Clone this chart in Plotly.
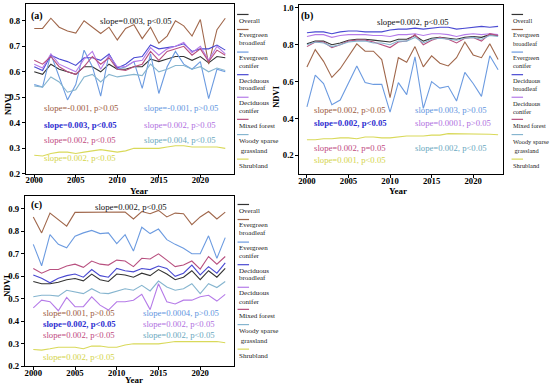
import plotly.graph_objects as go

W, H = 550, 389
FONT = "Liberation Serif, Times New Roman, serif"

years = list(range(2000, 2024))

series_names = ["Overall", "Evergreen broadleaf", "Evergreen conifer", "Deciduous broadleaf",
                "Deciduous conifer", "Mixed forest", "Woody sparse grassland", "Shrubland"]
legend_lines = [["Overall"], ["Evergreen", "broadleaf"], ["Evergreen", "conifer"],
                ["Deciduous", "broadleaf"], ["Deciduous", "conifer"], ["Mixed forest"],
                ["Woody sparse", " grassland"], ["Shrubland"]]
line_colors = ["#333333", "#A0674B", "#6C9BE0", "#4A4AD2", "#B57BE8", "#B8507F", "#86B5CF", "#D9D95A"]
text_colors = ["#111111", "#9C5A3C", "#5F95E0", "#2E2ED0", "#B070E0", "#C04A80", "#6AA8C0", "#D4D44A"]

# ---------------- panel (a) ----------------
a_overall = [0.60, 0.59, 0.63, 0.61, 0.60, 0.59, 0.62, 0.62, 0.60, 0.63, 0.61, 0.61,
             0.62, 0.62, 0.65, 0.64, 0.65, 0.66, 0.66, 0.645, 0.66, 0.635, 0.66, 0.655]
a_eb = [0.77, 0.77, 0.81, 0.775, 0.76, 0.752, 0.80, 0.775, 0.75, 0.775, 0.725, 0.77,
        0.785, 0.73, 0.775, 0.712, 0.74, 0.80, 0.78, 0.74, 0.805, 0.63, 0.765, 0.81]
a_ec = [0.55, 0.54, 0.67, 0.58, 0.49, 0.55, 0.685, 0.62, 0.505, 0.67, 0.61, 0.62,
        0.64, 0.535, 0.67, 0.515, 0.62, 0.68, 0.63, 0.61, 0.64, 0.495, 0.61, 0.60]
a_db = [0.62, 0.605, 0.665, 0.65, 0.64, 0.625, 0.655, 0.655, 0.645, 0.67, 0.615, 0.63,
        0.655, 0.66, 0.705, 0.69, 0.695, 0.70, 0.71, 0.68, 0.69, 0.69, 0.705, 0.685]
a_dc = [0.63, 0.615, 0.67, 0.63, 0.615, 0.60, 0.65, 0.68, 0.61, 0.665, 0.62, 0.62,
        0.64, 0.645, 0.695, 0.665, 0.69, 0.70, 0.715, 0.675, 0.70, 0.645, 0.70, 0.67]
a_mf = [0.645, 0.63, 0.66, 0.62, 0.60, 0.59, 0.62, 0.66, 0.63, 0.655, 0.61, 0.605,
        0.62, 0.63, 0.68, 0.645, 0.68, 0.69, 0.70, 0.665, 0.69, 0.64, 0.685, 0.665]
a_wsg = [0.545, 0.54, 0.58, 0.56, 0.52, 0.53, 0.58, 0.59, 0.56, 0.59, 0.58, 0.585,
         0.59, 0.585, 0.63, 0.60, 0.61, 0.625, 0.625, 0.61, 0.62, 0.60, 0.615, 0.605]
a_shrub = [0.273, 0.27, 0.28, 0.285, 0.285, 0.28, 0.285, 0.29, 0.295, 0.29, 0.285, 0.29,
           0.30, 0.30, 0.30, 0.30, 0.305, 0.31, 0.31, 0.305, 0.305, 0.305, 0.305, 0.30]
a_slopes = ["slope=0.003, p<0.05", "slope=-0.001, p>0.05", "slope=-0.001, p>0.05",
            "slope=0.003, p<0.05", "slope=0.002, p>0.05", "slope=0.002, p<0.05",
            "slope=0.004, p<0.05", "slope=0.002, p<0.05"]

# ---------------- panel (b) ----------------
b_overall = [0.805, 0.82, 0.82, 0.80, 0.81, 0.825, 0.83, 0.83, 0.825, 0.82, 0.815, 0.83,
             0.83, 0.85, 0.82, 0.835, 0.84, 0.835, 0.83, 0.84, 0.845, 0.84, 0.855, 0.85]
b_eb = [0.68, 0.774, 0.71, 0.623, 0.67, 0.74, 0.805, 0.765, 0.765, 0.72, 0.513, 0.73,
        0.705, 0.79, 0.68, 0.74, 0.70, 0.685, 0.73, 0.815, 0.745, 0.73, 0.805, 0.72]
b_ec = [0.463, 0.635, 0.59, 0.475, 0.50, 0.59, 0.685, 0.595, 0.585, 0.585, 0.435, 0.595,
        0.53, 0.735, 0.455, 0.60, 0.565, 0.575, 0.495, 0.65, 0.59, 0.52, 0.74, 0.665]
b_db = [0.865, 0.87, 0.87, 0.86, 0.87, 0.875, 0.875, 0.87, 0.87, 0.87, 0.88, 0.885,
        0.885, 0.89, 0.885, 0.89, 0.895, 0.895, 0.885, 0.89, 0.895, 0.90, 0.895, 0.90]
b_dc = [0.845, 0.855, 0.855, 0.84, 0.85, 0.855, 0.855, 0.855, 0.85, 0.85, 0.845, 0.855,
        0.855, 0.86, 0.85, 0.86, 0.86, 0.855, 0.845, 0.855, 0.86, 0.855, 0.86, 0.855]
b_mf = [0.79, 0.815, 0.815, 0.785, 0.80, 0.82, 0.825, 0.825, 0.815, 0.80, 0.785, 0.815,
        0.82, 0.855, 0.80, 0.825, 0.84, 0.83, 0.81, 0.835, 0.84, 0.82, 0.86, 0.85]
b_wsg = [0.80, 0.815, 0.81, 0.79, 0.80, 0.815, 0.82, 0.82, 0.81, 0.81, 0.80, 0.82,
         0.82, 0.84, 0.81, 0.83, 0.835, 0.83, 0.825, 0.835, 0.84, 0.83, 0.85, 0.845]
b_shrub = [0.285, 0.285, 0.29, 0.29, 0.295, 0.295, 0.29, 0.30, 0.30, 0.295, 0.295, 0.30,
           0.305, 0.305, 0.305, 0.31, 0.31, 0.318, 0.318, 0.315, 0.315, 0.315, 0.315, 0.312]
b_slopes = ["slope=0.002, p<0.05", "slope=0.002, p>0.05", "slope=0.003, p>0.05",
            "slope=0.002, p<0.05", "slope=0.0001, p>0.05", "slope=0.002, p=0.05",
            "slope=0.002, p<0.05", "slope=0.001, p<0.05"]

# ---------------- panel (c) ----------------
c_overall = [0.577, 0.567, 0.567, 0.574, 0.585, 0.59, 0.58, 0.61, 0.585, 0.577, 0.61, 0.606,
             0.596, 0.614, 0.603, 0.63, 0.61, 0.585, 0.596, 0.625, 0.585, 0.625, 0.596, 0.635]
c_eb = [0.864, 0.793, 0.881, 0.852, 0.823, 0.884, 0.884, 0.886, 0.886, 0.886, 0.886, 0.886,
        0.855, 0.888, 0.878, 0.893, 0.864, 0.881, 0.878, 0.83, 0.864, 0.888, 0.855, 0.885]
c_ec = [0.742, 0.647, 0.785, 0.742, 0.727, 0.778, 0.793, 0.804, 0.79, 0.793, 0.745, 0.785,
        0.712, 0.818, 0.79, 0.81, 0.763, 0.742, 0.725, 0.70, 0.70, 0.78, 0.68, 0.772]
c_db = [0.606, 0.591, 0.571, 0.591, 0.603, 0.61, 0.596, 0.63, 0.603, 0.596, 0.635, 0.625,
        0.62, 0.635, 0.63, 0.646, 0.635, 0.60, 0.614, 0.65, 0.606, 0.643, 0.614, 0.66]
c_dc = [0.46, 0.494, 0.487, 0.447, 0.506, 0.465, 0.465, 0.509, 0.472, 0.45, 0.487, 0.487,
        0.494, 0.52, 0.452, 0.567, 0.487, 0.477, 0.494, 0.494, 0.509, 0.516, 0.49, 0.52]
c_mf = [0.635, 0.614, 0.63, 0.63, 0.646, 0.654, 0.64, 0.668, 0.654, 0.65, 0.672, 0.668,
        0.643, 0.68, 0.677, 0.70, 0.672, 0.643, 0.65, 0.668, 0.632, 0.688, 0.654, 0.688]
c_wsg = [0.509, 0.516, 0.516, 0.512, 0.538, 0.53, 0.523, 0.545, 0.526, 0.523, 0.535, 0.545,
         0.538, 0.56, 0.535, 0.579, 0.553, 0.538, 0.545, 0.567, 0.523, 0.567, 0.55, 0.577]
c_shrub = [0.275, 0.272, 0.278, 0.285, 0.285, 0.285, 0.278, 0.29, 0.29, 0.285, 0.285, 0.295,
           0.30, 0.30, 0.30, 0.30, 0.305, 0.31, 0.31, 0.31, 0.308, 0.31, 0.31, 0.305]
c_slopes = ["slope=0.002, p<0.05", "slope=0.001, p>0.05", "slope=0.0004, p>0.05",
            "slope=0.002, p<0.05", "slope=0.002, p<0.05", "slope=0.002, p<0.05",
            "slope=0.002, p<0.05", "slope=0.002, p<0.05"]

panels = [
    dict(tag="(a)", data=[a_overall, a_eb, a_ec, a_db, a_dc, a_mf, a_wsg, a_shrub], slopes=a_slopes,
         xpx=(25, 233), ypx=(2, 175), xr=[1999, 2024], yr=[0.2, 0.866],
         yt=[0.2, 0.3, 0.4, 0.5, 0.6, 0.7, 0.8], ytext=["0.2", "0.3", "0.4", "0.5", "0.6", "0.7", "0.8"],
         tagpos=(36, 14), ovpos=(135, 19), left=(41, 141), rows=(108, 125, 141, 159),
         ndvi=(7, 104), year=(138, 192), legx=236.5, legtop=2, legfont=7, xstand=-5),
    dict(tag="(b)", data=[b_overall, b_eb, b_ec, b_db, b_dc, b_mf, b_wsg, b_shrub], slopes=b_slopes,
         xpx=(299, 503), ypx=(3, 175), xr=[1999.1, 2023.6], yr=[0.1, 1.016],
         yt=[0.2, 0.4, 0.6, 0.8, 1.0], ytext=["0.2", "0.4", "0.6", "0.8", "1.0"],
         tagpos=(307, 14), ovpos=(413, 20), left=(312, 413), rows=(110, 123, 149, 161),
         ndvi=(276, 96), year=(398, 192), legx=511.5, legtop=2, legfont=6.4, xstand=-4),
    dict(tag="(c)", data=[c_overall, c_eb, c_ec, c_db, c_dc, c_mf, c_wsg, c_shrub], slopes=c_slopes,
         xpx=(24, 233), ypx=(198, 371), xr=[1999, 2024], yr=[0.2, 0.955],
         yt=[0.2, 0.3, 0.4, 0.5, 0.6, 0.7, 0.8, 0.9],
         ytext=["0.2", "0.3", "0.4", "0.5", "0.6", "0.7", "0.8", "0.9"],
         tagpos=(36, 207), ovpos=(130, 209), left=(40, 140), rows=(317, 328, 339, 362),
         ndvi=(6, 289), year=(133, 384.5), legx=237, legtop=195.5, legfont=7, xstand=-5),
]

xtv = [2000, 2005, 2010, 2015, 2020]


def px_x(v):
    return v / W


def px_y(v):
    return 1 - v / H


fig = go.Figure()
annotations = []
shapes = []

# legend layout (offsets from legend top)
leg_line_off = [10.7, 26, 49, 72, 95, 117.5, 133, 158]
leg_text_off = [[17], [31.5, 40], [55, 63], [78, 86], [101, 109.5], [124], [140, 149.5], [164.5]]

for i, p in enumerate(panels):
    sfx = "" if i == 0 else str(i + 1)
    xa, ya = "x" + sfx, "y" + sfx
    for k, vals in enumerate(p["data"]):
        fig.add_trace(go.Scatter(x=years, y=vals, mode="lines", name=series_names[k],
                                 line=dict(color=line_colors[k], width=1.1),
                                 xaxis=xa, yaxis=ya, showlegend=False))
    axis_common = dict(showline=True, mirror=True, linecolor="black", linewidth=1,
                       ticks="outside", ticklen=3, tickwidth=1, tickcolor="black",
                       showgrid=False, zeroline=False,
                       tickfont=dict(family=FONT, size=8.7, color="black", weight="bold"))
    fig.update_layout(**{
        "xaxis" + sfx: dict(domain=[px_x(p["xpx"][0]), px_x(p["xpx"][1])], range=p["xr"],
                            anchor=ya, tickvals=xtv, ticktext=[str(v) for v in xtv],
                            ticklabelstandoff=p["xstand"], **axis_common),
        "yaxis" + sfx: dict(domain=[px_y(p["ypx"][1]), px_y(p["ypx"][0])], range=p["yr"],
                            anchor=xa, tickvals=p["yt"], ticktext=p["ytext"], **axis_common),
    })

    # panel tag
    annotations.append(dict(x=px_x(p["tagpos"][0]), y=px_y(p["tagpos"][1]), xref="paper", yref="paper",
                            text="<b>%s</b>" % p["tag"], showarrow=False, xanchor="center", yanchor="middle",
                            font=dict(family=FONT, size=10, color="black")))
    # axis titles
    annotations.append(dict(x=px_x(p["ndvi"][0]), y=px_y(p["ndvi"][1]), xref="paper", yref="paper",
                            text="<b>NDVI</b>", textangle=-90, showarrow=False,
                            xanchor="center", yanchor="middle",
                            font=dict(family=FONT, size=8.5, color="black")))
    annotations.append(dict(x=px_x(p["year"][0]), y=px_y(p["year"][1]), xref="paper", yref="paper",
                            text="<b>Year</b>", showarrow=False, xanchor="center", yanchor="middle",
                            font=dict(family=FONT, size=9, color="black")))
    # slope texts
    s = p["slopes"]
    annotations.append(dict(x=px_x(p["ovpos"][0]), y=px_y(p["ovpos"][1]), xref="paper", yref="paper",
                            text=s[0], showarrow=False, xanchor="center", yanchor="middle",
                            font=dict(family=FONT, size=8.7, color=text_colors[0])))
    lx, rx = p["left"]
    r1, r2, r3, r4 = p["rows"]
    placements = [(1, lx, r1), (2, rx, r1), (3, lx, r2), (4, rx, r2), (5, lx, r3), (6, rx, r3), (7, lx, r4)]
    for k, x0, y0 in placements:
        txt = "<b>%s</b>" % s[k] if k == 3 else s[k]
        annotations.append(dict(x=px_x(x0), y=px_y(y0), xref="paper", yref="paper",
                                text=txt, showarrow=False, xanchor="left", yanchor="middle",
                                font=dict(family=FONT, size=8.7, color=text_colors[k])))
    # custom legend
    lxp, top = p["legx"], p["legtop"]
    for k in range(8):
        ly = top + leg_line_off[k]
        shapes.append(dict(type="line", xref="paper", yref="paper",
                           x0=px_x(lxp), x1=px_x(lxp + 11.5), y0=px_y(ly), y1=px_y(ly),
                           line=dict(color=line_colors[k], width=1.2)))
        for j, t in enumerate(legend_lines[k]):
            annotations.append(dict(x=px_x(lxp - 0.5), y=px_y(top + leg_text_off[k][j]), xref="paper",
                                    yref="paper", text=t, showarrow=False, xanchor="left",
                                    yanchor="middle", font=dict(family=FONT, size=p["legfont"],
                                                                color="#222222")))

fig.update_layout(width=W, height=H, autosize=False, margin=dict(l=0, r=0, t=0, b=0),
                  paper_bgcolor="white", plot_bgcolor="white",
                  annotations=annotations, shapes=shapes, showlegend=False)

fig.write_html("out.html", config={"displayModeBar": False},
               post_script="document.body.style.margin='0px';")
